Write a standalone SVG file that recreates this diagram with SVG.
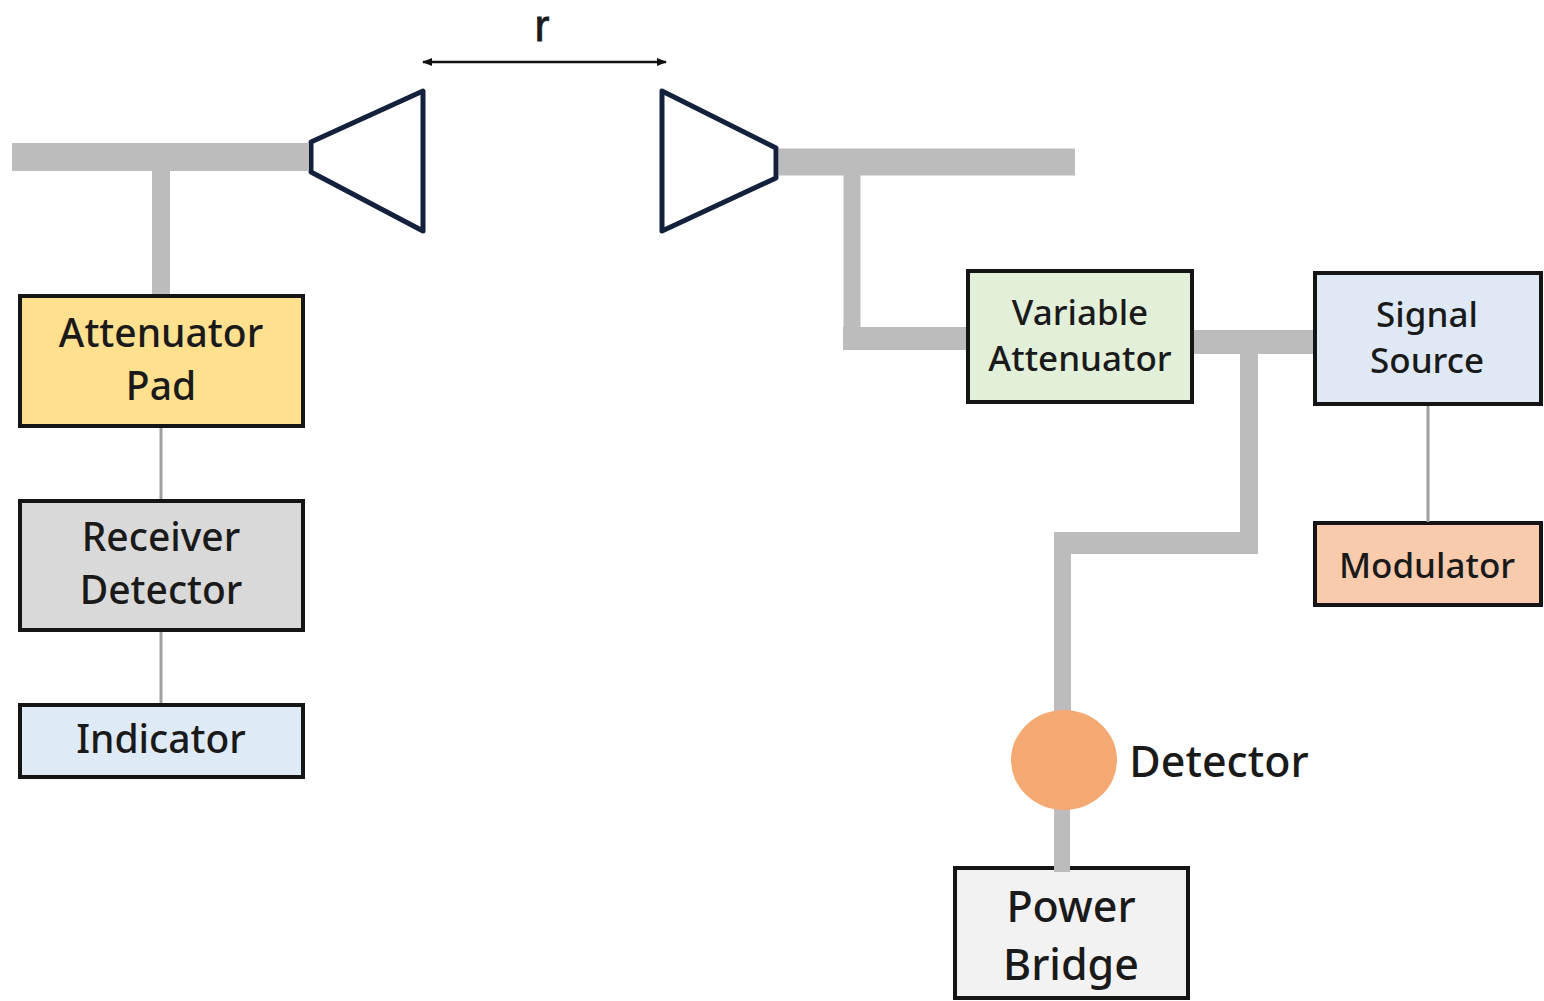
<svg xmlns="http://www.w3.org/2000/svg" width="1544" height="1001" viewBox="0 0 1544 1001">
<style>
text{font-family:"Noto Sans","Liberation Sans",sans-serif;fill:#1a1a1a;text-anchor:middle;font-weight:500}
.box{stroke:#151515;stroke-width:4}
.lg{font-size:39px}
.md{font-size:35px}
.horn{fill:#fff;stroke:#14213d;stroke-width:5;stroke-linejoin:round}
.w{fill:none;stroke:#bcbcbc;stroke-linejoin:miter}
.t{fill:none;stroke:#a0a0a0;stroke-width:3}
</style>
<defs><marker id="a" markerWidth="10" markerHeight="8" refX="9" refY="4" orient="auto-start-reverse" markerUnits="userSpaceOnUse"><path d="M0 0L10 4L0 8z" fill="#111"/></marker></defs>
<rect width="1544" height="1001" fill="#fff"/>
<g id="dim-r"><text x="542" y="41" style="font-family:'Liberation Sans',sans-serif;font-size:45px;font-weight:400;stroke:#1a1a1a;stroke-width:.8">r</text></g>
<g id="horn-left"><path class="horn" d="M423 91V231L311 172V142Z"/></g>
<g id="horn-right"><path class="horn" d="M662 91V231L776 178V148Z"/></g>
<g id="attenuator-pad"><rect class="box" x="20" y="296" width="283" height="130" fill="#fee08f"/><text class="lg" x="161" y="347">Attenuator</text><text class="lg" x="161" y="400">Pad</text></g>
<g id="receiver-detector"><rect class="box" x="20" y="501" width="283" height="129" fill="#d9d9d9"/><text class="lg" x="161" y="551">Receiver</text><text class="lg" x="161" y="604">Detector</text></g>
<g id="indicator"><rect class="box" x="20" y="705" width="283" height="72" fill="#deebf7"/><text class="lg" x="161" y="753">Indicator</text></g>
<g id="variable-attenuator"><rect class="box" x="968" y="271" width="224" height="131" fill="#e2efd9"/><text class="md" x="1080" y="325">Variable</text><text class="md" x="1080" y="371">Attenuator</text></g>
<g id="signal-source"><rect class="box" x="1315" y="273" width="226" height="131" fill="#dfe9f6"/><text class="md" x="1427" y="327">Signal</text><text class="md" x="1427" y="373">Source</text></g>
<g id="modulator"><rect class="box" x="1315" y="523" width="226" height="82" fill="#f8cbad"/><text class="md" x="1427" y="578">Modulator</text></g>
<g id="power-bridge"><rect class="box" x="955" y="868" width="233" height="130" fill="#f2f2f2"/><text x="1071" y="922" style="font-size:43px">Power</text><text x="1071" y="980" style="font-size:43px">Bridge</text></g>
<g id="connectors">
<path class="w" stroke-width="28" d="M12 157H309"/>
<path class="w" stroke-width="18" d="M161 171V294"/>
<path class="w" stroke-width="27" d="M779 162H1075"/>
<path class="w" stroke-width="17" d="M852 175V338"/>
<path class="w" stroke-width="23" d="M843 338.500H966"/>
<path class="w" stroke-width="24" d="M1194 342H1313"/>
<path class="w" stroke-width="18" d="M1249 354V532"/>
<path class="w" stroke-width="22" d="M1054 543H1258"/>
<path class="w" stroke-width="17" d="M1062.500 554V713"/>
<path class="w" stroke-width="16" d="M1062 808V872"/>
<path class="t" d="M161 428V499"/>
<path class="t" d="M161 632V703"/>
<path class="t" d="M1428 406V522"/>
<path d="M423 62H666" fill="none" stroke="#111" stroke-width="2.500" marker-start="url(#a)" marker-end="url(#a)"/>
</g>
<g id="detector"><ellipse cx="1064" cy="760" rx="53" ry="50" fill="#f4a973"/><text x="1219" y="777" style="font-size:43px">Detector</text></g>
</svg>
